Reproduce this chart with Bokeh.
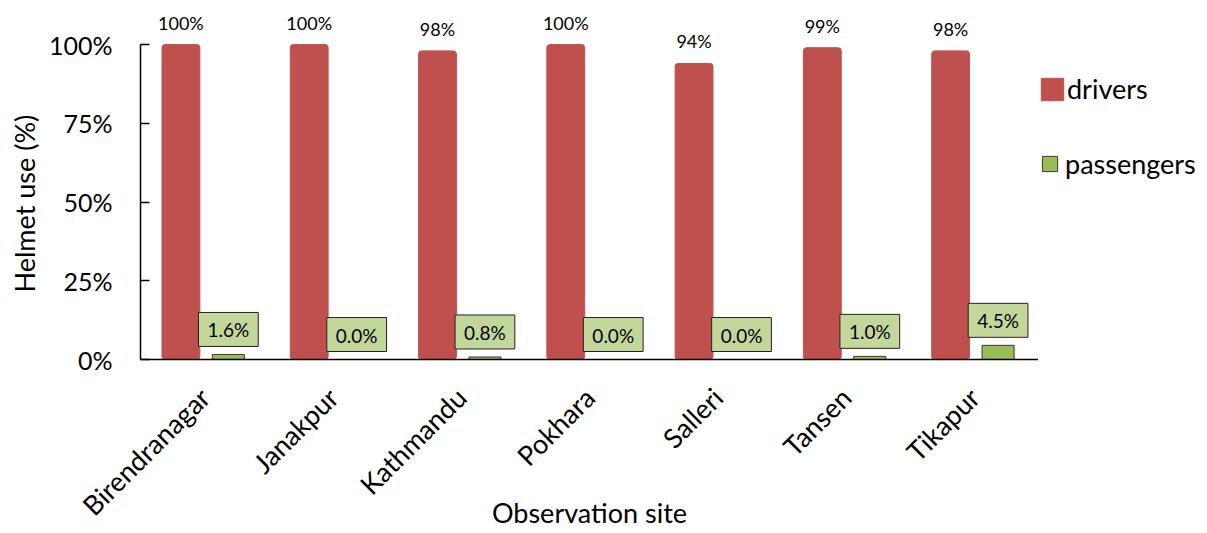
import math

from bokeh.core.properties import value
from bokeh.embed import file_html
from bokeh.layouts import row
from bokeh.models import (ColumnDataSource, FactorRange, FixedTicker, LabelSet,
                          Legend, LegendItem, PrintfTickFormatter, Range1d, Title)
from bokeh.plotting import figure
from bokeh.resources import INLINE
from bokeh.transform import dodge

# Helmet use by observation site
sites = ["Birendranagar", "Janakpur", "Kathmandu", "Pokhara", "Salleri", "Tansen", "Tikapur"]
drivers = [100, 100, 98, 100, 94, 99, 98]
passengers = [1.6, 0.0, 0.8, 0.0, 0.0, 1.0, 4.5]
y_ticks = [0, 25, 50, 75, 100]
series = ["drivers", "passengers"]

FONT = "Lato"
RED = "#C0504D"
GREEN = "#9BBB59"
LABEL_BG = "#C4D79B"
EDGE = "#3a3a3a"

src = ColumnDataSource(dict(
    site=sites,
    drivers=drivers,
    passengers=passengers,
    drivers_lbl=[f"{v:.0f}%" for v in drivers],
    passengers_lbl=[f"{v:.1f}%" for v in passengers],
))

# ---- bar chart -------------------------------------------------------------
p = figure(
    width=1038, height=533,
    x_range=FactorRange(factors=sites), y_range=Range1d(0, 114),
    output_backend="svg", toolbar_location=None,
    min_border_left=140, min_border_right=0,
    min_border_top=0, min_border_bottom=174,
)

x_drv = dodge("site", -0.185, range=p.x_range)
x_pas = dodge("site", 0.185, range=p.x_range)

p.vbar(x=x_drv, top="drivers", width=0.295, source=src,
       fill_color=RED, line_color=RED, border_radius=3)
p.vbar(x=x_pas, top="passengers", width=0.25, source=src,
       fill_color=GREEN, line_color=EDGE, line_width=1)

# value labels
p.add_layout(LabelSet(
    x=x_drv, y="drivers", text="drivers_lbl", source=src,
    text_align="center", text_baseline="alphabetic", y_offset=15,
    text_font=value(FONT), text_font_size="18px", text_color="#000000",
))
p.text(
    x=x_pas, y="passengers", text="passengers_lbl", source=src,
    text_align="center", text_baseline="bottom", y_offset=-8,
    text_font=value(FONT), text_font_size="19px", text_color="#000000",
    background_fill_color=LABEL_BG, border_line_color="#222222",
    border_line_width=1, padding=dict(left=9, right=9, top=6, bottom=5),
)

p.xgrid.visible = False
p.ygrid.visible = False
p.outline_line_color = None

p.yaxis.ticker = FixedTicker(ticks=y_ticks)
p.yaxis.formatter = PrintfTickFormatter(format="%d%%")
p.yaxis.bounds = (0, 100)
p.yaxis.major_tick_in = 9
p.yaxis.major_tick_out = 0
p.yaxis.minor_tick_line_color = None
p.yaxis.major_label_standoff = 28
p.yaxis.major_label_text_font_size = "25px"
p.yaxis.major_tick_line_color = "#000000"
p.yaxis.major_tick_line_width = 1.5

p.xaxis.major_tick_line_color = None
p.xaxis.major_label_orientation = math.pi / 4
p.xaxis.major_label_standoff = 27
p.xaxis.major_label_text_font_size = "27px"
p.xaxis.axis_label = "Observation site"
p.xaxis.axis_label_standoff = -40
p.xaxis.axis_label_text_font = FONT
p.xaxis.axis_label_text_font_size = "27px"
p.xaxis.axis_label_text_font_style = "normal"
p.xaxis.axis_label_text_color = "#000000"

for ax in (p.xaxis, p.yaxis):
    ax.axis_line_color = "#000000"
    ax.axis_line_width = 1.5
    ax.major_label_text_font = FONT
    ax.major_label_text_color = "#000000"

p.add_layout(Title(text="Helmet use (%)", align="left", offset=67,
                   text_font=FONT, text_font_size="27px",
                   text_font_style="normal", text_color="#000000"), "left")

# ---- legend panel beside the chart (its frame lines up with the chart's) ----
lg = figure(
    width=169, height=533,
    x_range=Range1d(0, 1), y_range=Range1d(0, 1),
    x_axis_type=None, y_axis_type=None,
    output_backend="svg", toolbar_location=None,
    min_border=0,
)
lg.xgrid.visible = False
lg.ygrid.visible = False
lg.outline_line_color = None

# key renderers share the chart data; their bars fall outside this panel's range
key_drv = lg.vbar(x="drivers", top="drivers", width=0.1, source=src,
                  fill_color=RED, line_color=RED)
key_pas = lg.vbar(x="drivers", top="passengers", width=0.1, source=src,
                  fill_color=GREEN, line_color=EDGE)

common = dict(padding=0, margin=0, spacing=0,
              label_text_font=FONT, label_text_font_size="27px",
              label_text_color="#000000",
              border_line_alpha=0, background_fill_alpha=0)
lg.add_layout(Legend(items=[LegendItem(label=series[0], renderers=[key_drv])],
                     location=(0, 254), glyph_width=28, glyph_height=28,
                     label_standoff=1, **common))
lg.add_layout(Legend(items=[LegendItem(label=series[1], renderers=[key_pas])],
                     location=(2, 179), glyph_width=19, glyph_height=19,
                     label_standoff=6, **common))

layout = row(p, lg)
open("out.html", "w").write(file_html(layout, INLINE))
